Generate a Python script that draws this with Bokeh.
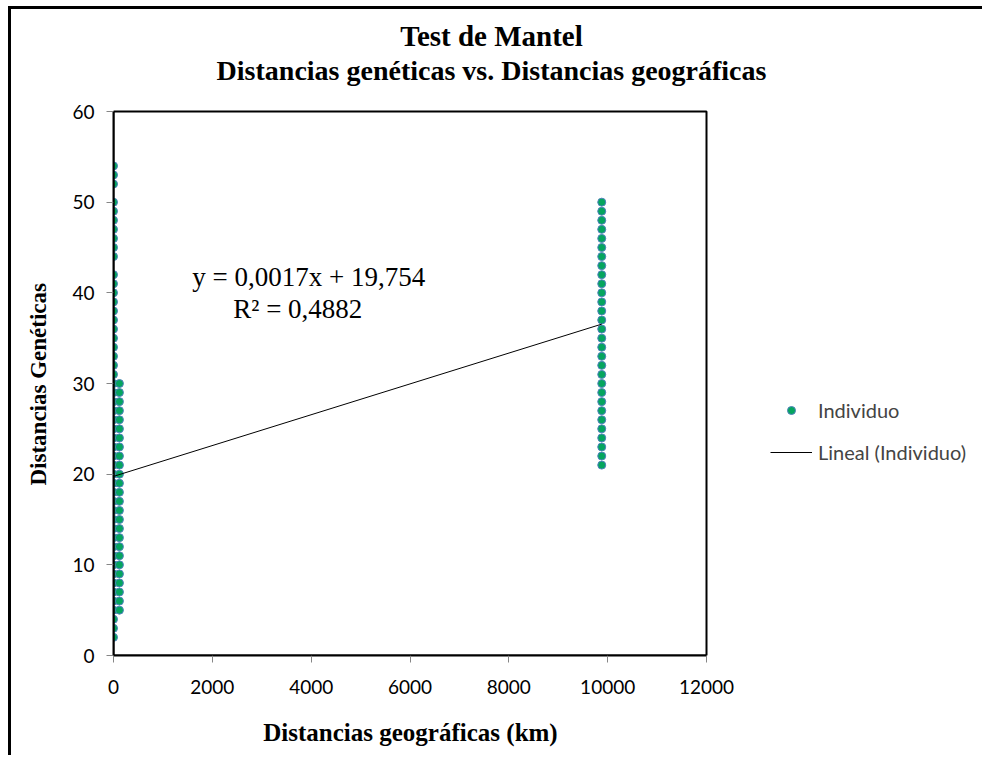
from bokeh.plotting import figure
from bokeh.models import (Label, Legend, LegendItem, FixedTicker, ColumnDataSource,
                          BoxAnnotation, Range1d)
from bokeh.embed import file_html
from bokeh.resources import INLINE

# Pairs of individuals grouped by geographic distance (km) with their genetic distances
geo_same_site = 0
gen_same_site = [2, 3, 4, 5, 6, 7, 8, 9, 10, 11, 12, 13, 14, 15, 16, 17, 18, 19, 20,
                 21, 22, 23, 24, 25, 26, 27, 28, 29, 30, 31, 32, 33, 34, 35, 36, 37,
                 38, 39, 40, 41, 42, 44, 45, 46, 47, 48, 49, 50, 52, 53, 54]

geo_near_site = 120
gen_near_site = [5, 6, 7, 8, 9, 10, 11, 12, 13, 14, 15, 16, 17, 18, 19, 20, 21, 22,
                 23, 24, 25, 26, 27, 28, 29, 30]

geo_far_site = 9880
gen_far_site = [21, 22, 23, 24, 25, 26, 27, 28, 29, 30, 31, 32, 33, 34, 35, 36, 37,
                38, 39, 40, 41, 42, 43, 44, 45, 46, 47, 48, 49, 50]

# Linear fit reported on the chart
slope = 0.0017
intercept = 19.754
r_squared = "0,4882"

x_ticks = [0, 2000, 4000, 6000, 8000, 10000, 12000]
y_ticks = [0, 10, 20, 30, 40, 50, 60]
x_max, y_max = 12000, 60

xs = ([geo_same_site] * len(gen_same_site) + [geo_near_site] * len(gen_near_site)
      + [geo_far_site] * len(gen_far_site))
ys = gen_same_site + gen_near_site + gen_far_site
points = ColumnDataSource(dict(x=xs, y=ys))

fit_x = [min(xs), max(xs)]
fit_y = [slope * v + intercept for v in fit_x]

SERIF = "Liberation Serif"
SANS = "Lato"
NBSP = "\u00a0"

# Geometry (px): the drawing frame covers the whole canvas right of / above the axes,
# so titles and legend can live inside it; the plotted box is 593 x 544 px.
CANVAS_W, CANVAS_H = 971, 749
LEFT, BOTTOM = 102, 103
FRAME_W, FRAME_H = CANVAS_W - LEFT, CANVAS_H - BOTTOM
BOX_W, BOX_H = 593, 544

p = figure(width=CANVAS_W, height=CANVAS_H, title=None,
           x_range=Range1d(0, x_max * FRAME_W / BOX_W),
           y_range=Range1d(0, y_max * FRAME_H / BOX_H),
           output_backend="svg", toolbar_location=None,
           min_border_left=LEFT, min_border_right=0,
           min_border_top=0, min_border_bottom=BOTTOM)
# page frame: offset the chart and draw a heavy rule along the left and top edges
p.margin = (9, 0, 0, 11)
p.styles = {"box-shadow": "-3px -3px 0 0 black, 3px -3px 0 0 black"}
p.background_fill_color = "white"
p.border_fill_color = "white"
p.outline_line_color = None
p.xgrid.visible = False
p.ygrid.visible = False

for ax in (p.xaxis, p.yaxis):
    ax.axis_line_color = "black"
    ax.axis_line_width = 2
    ax.major_tick_line_color = "#868686"
    ax.major_tick_in = 0
    ax.major_tick_out = 7
    ax.minor_tick_line_color = None
    ax.major_label_text_font = SANS
    ax.major_label_text_font_size = "19px"
    ax.major_label_text_color = "black"
    ax.axis_label_text_font = SERIF
    ax.axis_label_text_font_style = "bold"
    ax.axis_label_text_color = "black"

p.xaxis.bounds = (0, x_max)
p.yaxis.bounds = (0, y_max)
p.xaxis.ticker = FixedTicker(ticks=x_ticks)
p.yaxis.ticker = FixedTicker(ticks=y_ticks)
p.xaxis.major_label_standoff = 17
p.yaxis.major_label_standoff = 12
# axis titles are centred on the frame; pad them so they sit under/beside the box
p.xaxis.axis_label = "Distancias geográficas (km)" + NBSP * 44
p.yaxis.axis_label = "Distancias Genéticas" + NBSP * 18
p.xaxis.axis_label_text_font_size = "25px"
p.yaxis.axis_label_text_font_size = "23px"
p.xaxis.axis_label_standoff = 22
p.yaxis.axis_label_standoff = 18

# Box around the plotting area
p.add_layout(BoxAnnotation(left=0, right=x_max, bottom=0, top=y_max,
                           fill_alpha=0, line_color="black", line_alpha=1,
                           line_width=2))

dots = p.scatter("x", "y", source=points, size=8, fill_color="#05a55e",
                 line_color="#4f81bd", line_width=1)
fit = p.line(fit_x, fit_y, line_color="black", line_width=1)

legend = Legend(items=[LegendItem(label="Individuo", renderers=[dots]),
                       LegendItem(label="Lineal (Individuo)", renderers=[fit])],
                location=(657, 191), orientation="vertical",
                glyph_width=42, glyph_height=20, label_height=20,
                label_standoff=6, spacing=18, padding=0, margin=0,
                label_text_font=SANS, label_text_font_size="20px",
                border_line_alpha=0, background_fill_alpha=0)
p.add_layout(legend, "center")

title_font = dict(text_font=SERIF, text_font_style="bold", text_align="center",
                  text_baseline="middle", text_color="black",
                  x_units="screen", y_units="screen")
p.add_layout(Label(x=378, y=620, text="Test de Mantel", text_font_size="29px", **title_font))
p.add_layout(Label(x=378, y=585, text="Distancias genéticas vs. Distancias geográficas",
                   text_font_size="28px", **title_font))

eq_font = dict(text_font=SERIF, text_align="center", text_baseline="middle",
               text_color="black", text_font_size="27px")
p.add_layout(Label(x=3953, y=41.7,
                   text=f"y = {str(slope).replace('.', ',')}x + {str(intercept).replace('.', ',')}",
                   **eq_font))
p.add_layout(Label(x=3730, y=38.2, text=f"R² = {r_squared}", **eq_font))

open("out.html", "w").write(file_html(p, INLINE))
